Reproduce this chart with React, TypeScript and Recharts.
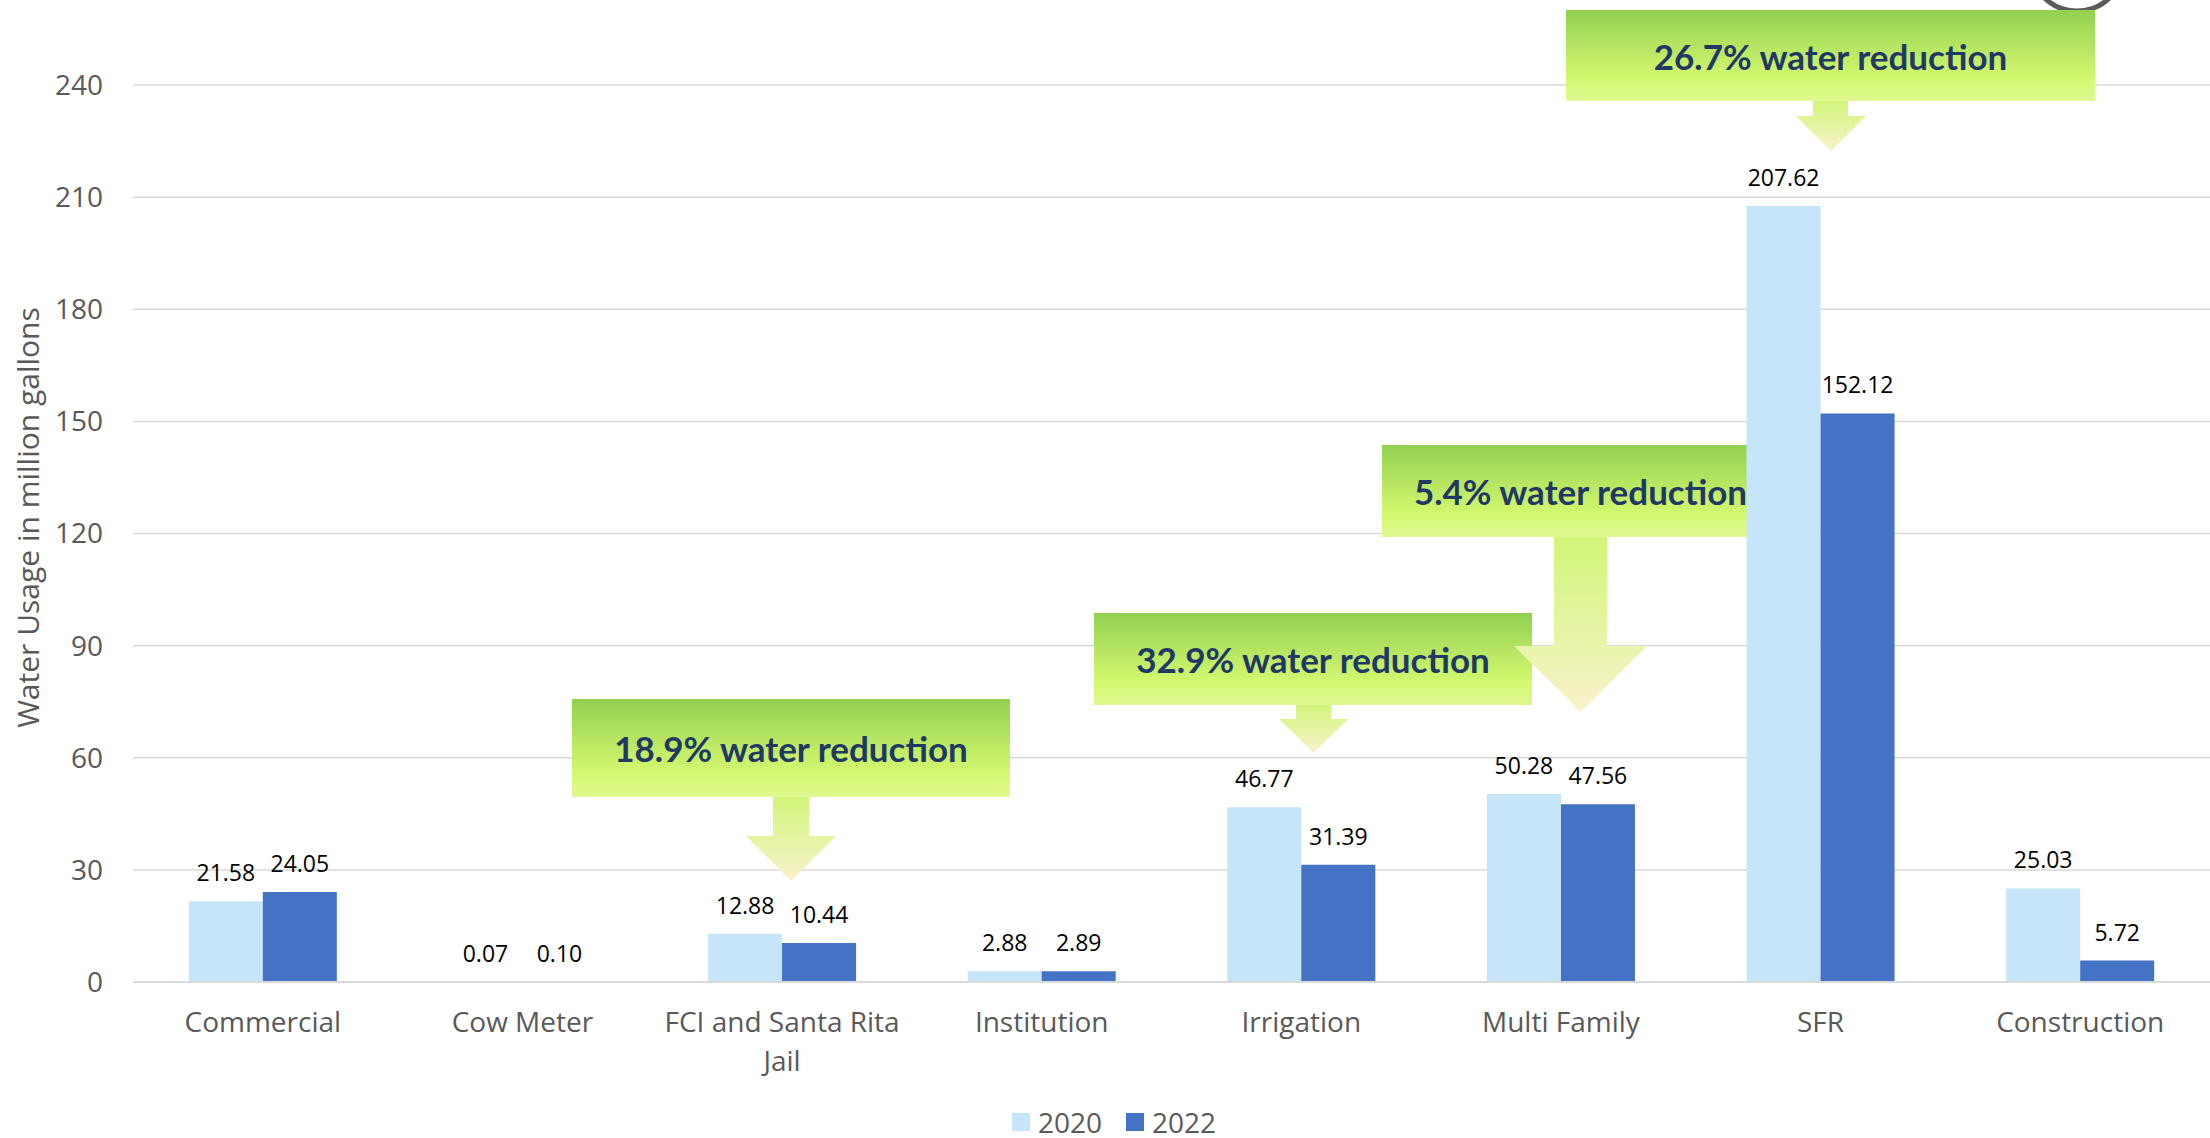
import React from 'react';
import {
    BarChart,
    Bar,
    XAxis,
    YAxis,
    CartesianGrid,
    Legend,
    Text,
    Customized,
} from 'recharts';

const categories = [
    'Commercial',
    'Cow Meter',
    'FCI and Santa Rita Jail',
    'Institution',
    'Irrigation',
    'Multi Family',
    'SFR',
    'Construction',
];
const usage2020 = [21.58, 0.07, 12.88, 2.88, 46.77, 50.28, 207.62, 25.03];
const usage2022 = [24.05, 0.1, 10.44, 2.89, 31.39, 47.56, 152.12, 5.72];
const seriesNames = ['2020', '2022'];
const yTicks = [0, 30, 60, 90, 120, 150, 180, 210, 240];
const reductionNotes = [
    '18.9% water reduction',
    '32.9% water reduction',
    '5.4% water reduction',
    '26.7% water reduction',
];

const FONT = '"Open Sans", "Liberation Sans", sans-serif';
const GRAY = '#595959';
const GRID = '#D9D9D9';
const COLORS = ['#C6E5F9', '#4472C4'];

const chartData = categories.map((name, i) => ({
    name,
    y2020: usage2020[i],
    y2022: usage2022[i],
}));

// callout geometry (box x1,y1,x2,y2 / stem x1,x2,bottom / head x1,x2,tip)
const calloutShapes = [
    { box: [572, 699, 1010, 797], stem: [773, 809, 836], head: [746, 836, 881] },
    { box: [1094, 613, 1532, 705], stem: [1296, 1331, 719], head: [1279, 1348, 753] },
    { box: [1382, 445, 1779, 537], stem: [1554, 1607, 646], head: [1514, 1647, 712] },
    { box: [1566, 10, 2095, 101], stem: [1813, 1848, 116], head: [1796, 1866, 151] },
];

const Callouts = () => (
    <g>
        <defs>
            <linearGradient id="boxGrad" x1="0" y1="0" x2="0" y2="1">
                <stop offset="0%" stopColor="#92D050" />
                <stop offset="75%" stopColor="#D4F870" />
                <stop offset="100%" stopColor="#E0F892" />
            </linearGradient>
            <linearGradient id="arrowGrad" x1="0" y1="0" x2="0" y2="1">
                <stop offset="0%" stopColor="#D2F478" />
                <stop offset="50%" stopColor="#E4F5A2" />
                <stop offset="100%" stopColor="#FAF1CC" />
            </linearGradient>
        </defs>
        <circle cx={2077} cy={-36} r={47} fill="#fff" stroke="#5A5A5A" strokeWidth={5} />
        {calloutShapes.map((c, i) => {
            const [bx1, by1, bx2, by2] = c.box;
            const [sx1, sx2, sy] = c.stem;
            const [hx1, hx2, tip] = c.head;
            const tx = (hx1 + hx2) / 2;
            const pts = [
                [sx1, by2 - 1],
                [sx2, by2 - 1],
                [sx2, sy],
                [hx2, sy],
                [tx, tip],
                [hx1, sy],
                [sx1, sy],
            ]
                .map((p) => p.join(','))
                .join(' ');
            return (
                <g key={i}>
                    <polygon points={pts} fill="url(#arrowGrad)" />
                    <rect x={bx1} y={by1} width={bx2 - bx1} height={by2 - by1} fill="url(#boxGrad)" />
                    <text
                        x={(bx1 + bx2) / 2}
                        y={(by1 + by2) / 2}
                        textAnchor="middle"
                        dominantBaseline="central"
                        fontFamily='Lato, "Open Sans", sans-serif'
                        fontWeight={700}
                        fontSize={35}
                        fill="#1F3864"
                    >
                        {reductionNotes[i]}
                    </text>
                </g>
            );
        })}
    </g>
);

// wrap category names that are wider than the band
let measureCtx: CanvasRenderingContext2D | null = null;
const textWidth = (s: string) => {
    if (!measureCtx) measureCtx = document.createElement('canvas').getContext('2d');
    if (!measureCtx) return s.length * 15;
    measureCtx.font = '28px "Open Sans"';
    return measureCtx.measureText(s).width;
};
const wrapLabel = (s: string, maxW: number) => {
    const lines: string[] = [];
    let cur = '';
    s.split(' ').forEach((w) => {
        const next = cur ? cur + ' ' + w : w;
        if (cur && textWidth(next) > maxW) {
            lines.push(cur);
            cur = w;
        } else {
            cur = next;
        }
    });
    if (cur) lines.push(cur);
    return lines;
};

const CategoryTick = (props: any) => {
    const { x, y, payload } = props;
    const lines = wrapLabel(String(payload.value), 250);
    return (
        <text x={x} y={y} textAnchor="middle" fill={GRAY} fontSize={28} fontFamily={FONT}>
            {lines.map((l, i) => (
                <tspan key={i} x={x} dy={i === 0 ? '0.71em' : 39}>
                    {l}
                </tspan>
            ))}
        </text>
    );
};

const YTitle = (props: any) => {
    const { viewBox } = props;
    const cy = viewBox.y + viewBox.height / 2 - 16;
    return (
        <Text
            x={28}
            y={cy}
            angle={-90}
            textAnchor="middle"
            verticalAnchor="middle"
            fill={GRAY}
            style={{ fontSize: 30, fontFamily: FONT }}
        >
            Water Usage in million gallons
        </Text>
    );
};

const LegendContent = () => (
    <div
        style={{
            display: 'flex',
            alignItems: 'center',
            height: 40,
            paddingTop: 8,
            boxSizing: 'border-box',
            fontFamily: FONT,
            fontSize: 28,
            color: GRAY,
        }}
    >
        {seriesNames.map((n, i) => (
            <div key={n} style={{ display: 'flex', alignItems: 'center', marginRight: i === 0 ? 24 : 0 }}>
                <span style={{ display: 'inline-block', width: 18, height: 18, background: COLORS[i], marginRight: 8 }} />
                <span style={{ lineHeight: '26px' }}>{n}</span>
            </div>
        ))}
    </div>
);

const labelStyle = {
    position: 'top' as const,
    offset: 20,
    fill: '#000',
    fontSize: 23,
    fontFamily: FONT,
    formatter: (v: any) => Number(v).toFixed(2),
};

export default function App() {
    return (
        <div style={{ position: 'absolute', left: 0, top: 0, width: 2210, height: 1138, background: '#fff' }}>
            <BarChart
                width={2210}
                height={1138}
                data={chartData}
                margin={{ top: 85, right: 0, left: 0, bottom: 0 }}
                barCategoryGap="21.5%"
                barGap={0}
            >
                <CartesianGrid vertical={false} stroke={GRID} strokeWidth={1.5} />
                <XAxis
                    dataKey="name"
                    interval={0}
                    height={116}
                    tickLine={false}
                    tickSize={0}
                    tickMargin={30}
                    axisLine={{ stroke: GRID, strokeWidth: 2 }}
                    tick={<CategoryTick />}
                />
                <YAxis
                    width={133}
                    domain={[0, 240]}
                    ticks={yTicks}
                    axisLine={false}
                    tickLine={false}
                    tickSize={0}
                    tickMargin={30}
                    tick={{ fill: GRAY, fontSize: 28, fontFamily: FONT }}
                    label={<YTitle />}
                />
                <Legend
                    verticalAlign="bottom"
                    content={<LegendContent />}
                    wrapperStyle={{ left: 1012, width: 'auto' }}
                />
                <Bar dataKey="y2020" name={seriesNames[0]} fill={COLORS[0]} isAnimationActive={false} label={labelStyle} />
                <Bar dataKey="y2022" name={seriesNames[1]} fill={COLORS[1]} isAnimationActive={false} label={labelStyle} />
                <Customized component={<Callouts />} />
            </BarChart>
        </div>
    );
}
